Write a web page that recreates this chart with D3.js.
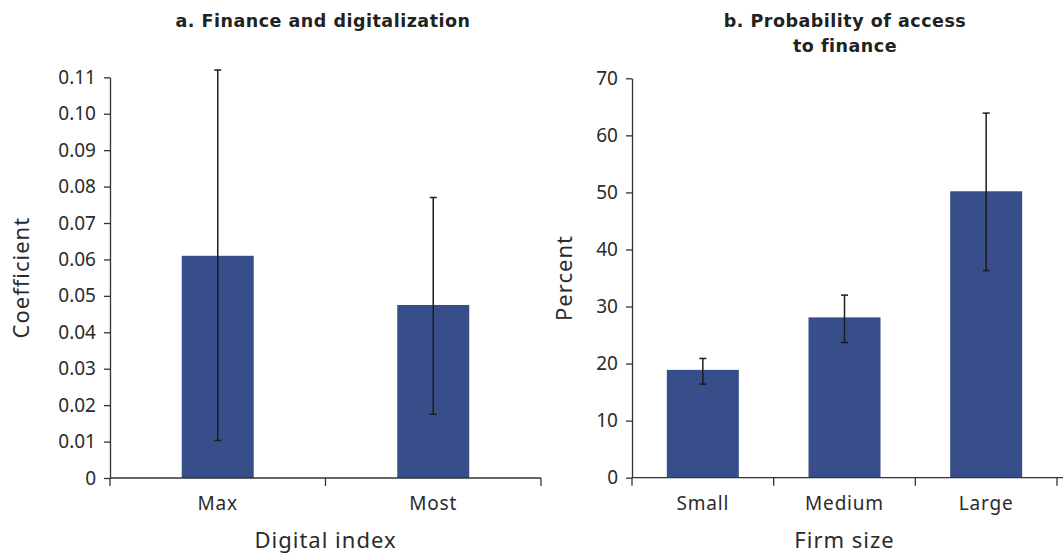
<!DOCTYPE html>
<html>
<head>
<meta charset="utf-8">
<script src="https://cdn.jsdelivr.net/npm/d3@7/dist/d3.min.js"></script>
<style>
  html, body { margin: 0; padding: 0; background: #fff; }
  svg { display: block; }
  text { font-family: "Noto Sans", "Open Sans", sans-serif; fill: #2b2b2b; }
  .title { font-family: "DejaVu Sans", sans-serif; font-weight: 700; font-size: 17.5px; letter-spacing: 0.5px; fill: #222; }
  .cat { font-size: 19px; letter-spacing: 0.8px; }
  .axtitle { font-size: 22px; letter-spacing: 1px; }
</style>
</head>
<body>
<svg id="chart" width="1063" height="556"></svg>
<script>
// Panel a: finance and digitalization
const digitalCategories = ["Max", "Most"];
const digitalCoef = [0.061, 0.0475];
const digitalLow = [0.0103, 0.0175];
const digitalHigh = [0.112, 0.077];
const digitalTicks = [0, 0.01, 0.02, 0.03, 0.04, 0.05, 0.06, 0.07, 0.08, 0.09, 0.10, 0.11];

// Panel b: probability of access to finance
const sizeCategories = ["Small", "Medium", "Large"];
const sizePercent = [18.9, 28.1, 50.2];
const sizeLow = [16.4, 23.7, 36.3];
const sizeHigh = [20.9, 32.0, 63.9];
const sizeTicks = [0, 10, 20, 30, 40, 50, 60, 70];

const svg = d3.select("#chart");
const barColor = "#384e8b";
const axisColor = "#333";

function panel(opts) {
  const g = svg.append("g");
  const x = d3.scaleBand().domain(opts.categories).range([opts.x0, opts.x1]).padding(0);
  const y = d3.scaleLinear().domain(opts.domain).range([opts.y0, opts.y1]);

  // bars
  const bw = 72;
  g.selectAll("rect.bar").data(opts.values).join("rect")
    .attr("class", "bar")
    .attr("x", (d, i) => x(opts.categories[i]) + x.bandwidth() / 2 - bw / 2)
    .attr("width", bw)
    .attr("y", d => y(d))
    .attr("height", d => y(0) - y(d))
    .attr("fill", barColor);

  // error bars
  const cap = 7;
  opts.categories.forEach((c, i) => {
    const cx = x(c) + x.bandwidth() / 2;
    const eg = g.append("g").attr("stroke", "#1c1c1c").attr("stroke-width", 1.5);
    eg.append("line").attr("x1", cx).attr("x2", cx).attr("y1", y(opts.low[i])).attr("y2", y(opts.high[i]));
    eg.append("line").attr("x1", cx - cap / 2).attr("x2", cx + cap / 2).attr("y1", y(opts.low[i])).attr("y2", y(opts.low[i]));
    eg.append("line").attr("x1", cx - cap / 2).attr("x2", cx + cap / 2).attr("y1", y(opts.high[i])).attr("y2", y(opts.high[i]));
  });

  // y axis
  const yAxis = d3.axisLeft(y).tickValues(opts.ticks).tickFormat(opts.fmt).tickSizeInner(6).tickSizeOuter(0).tickPadding(8);
  const ya = g.append("g").attr("transform", `translate(${opts.x0},0)`).call(yAxis);
  ya.select(".domain").attr("stroke", axisColor).attr("stroke-width", 1.3);
  ya.selectAll(".tick line").attr("stroke", axisColor).attr("stroke-width", 1.3);
  ya.selectAll(".tick text").style("font-size", "19px").attr("fill", "#2b2b2b").attr("font-family", null);

  // x axis with ticks at band boundaries
  const xa = g.append("g").attr("transform", `translate(0,${opts.y0})`);
  xa.append("line").attr("x1", opts.x0).attr("x2", opts.x1 + opts.extend).attr("y1", 0).attr("y2", 0)
    .attr("stroke", axisColor).attr("stroke-width", 1.3);
  const bounds = opts.categories.map(c => x(c)).concat([opts.x1]);
  xa.selectAll("line.bt").data(bounds).join("line").attr("class", "bt")
    .attr("x1", d => d).attr("x2", d => d).attr("y1", 0).attr("y2", 8)
    .attr("stroke", axisColor).attr("stroke-width", 1.3);
  xa.selectAll("text.cat").data(opts.categories).join("text").attr("class", "cat")
    .attr("x", d => x(d) + x.bandwidth() / 2).attr("y", 32)
    .attr("text-anchor", "middle").text(d => d);

  // axis titles
  g.append("text").attr("class", "axtitle").attr("x", (opts.x0 + opts.x1) / 2).attr("y", opts.y0 + 70)
    .attr("text-anchor", "middle").text(opts.xTitle);
  g.append("text").attr("class", "axtitle")
    .attr("transform", `translate(${opts.yTitleX},${(opts.y0 + opts.y1) / 2}) rotate(-90)`)
    .attr("text-anchor", "middle").text(opts.yTitle);

  // panel title
  const t = g.append("text").attr("class", "title").attr("text-anchor", "middle");
  opts.title.forEach((line, i) => {
    t.append("tspan").attr("x", opts.titleX).attr("y", opts.titleY + i * 25).text(line);
  });
}

panel({
  categories: digitalCategories, values: digitalCoef, low: digitalLow, high: digitalHigh,
  ticks: digitalTicks, domain: [0, 0.11], fmt: d => d === 0 ? "0" : d3.format(".2f")(d),
  x0: 110, x1: 541, extend: 0, y0: 478, y1: 77.3,
  xTitle: "Digital index", yTitle: "Coefficient", yTitleX: 29,
  title: ["a. Finance and digitalization"], titleX: 323, titleY: 27
});

panel({
  categories: sizeCategories, values: sizePercent, low: sizeLow, high: sizeHigh,
  ticks: sizeTicks, domain: [0, 70], fmt: d3.format("d"),
  x0: 632, x1: 1057, extend: 10, y0: 477.7, y1: 78.3,
  xTitle: "Firm size", yTitle: "Percent", yTitleX: 572,
  title: ["b. Probability of access", "to finance"], titleX: 845, titleY: 27
});
</script>
</body>
</html>
